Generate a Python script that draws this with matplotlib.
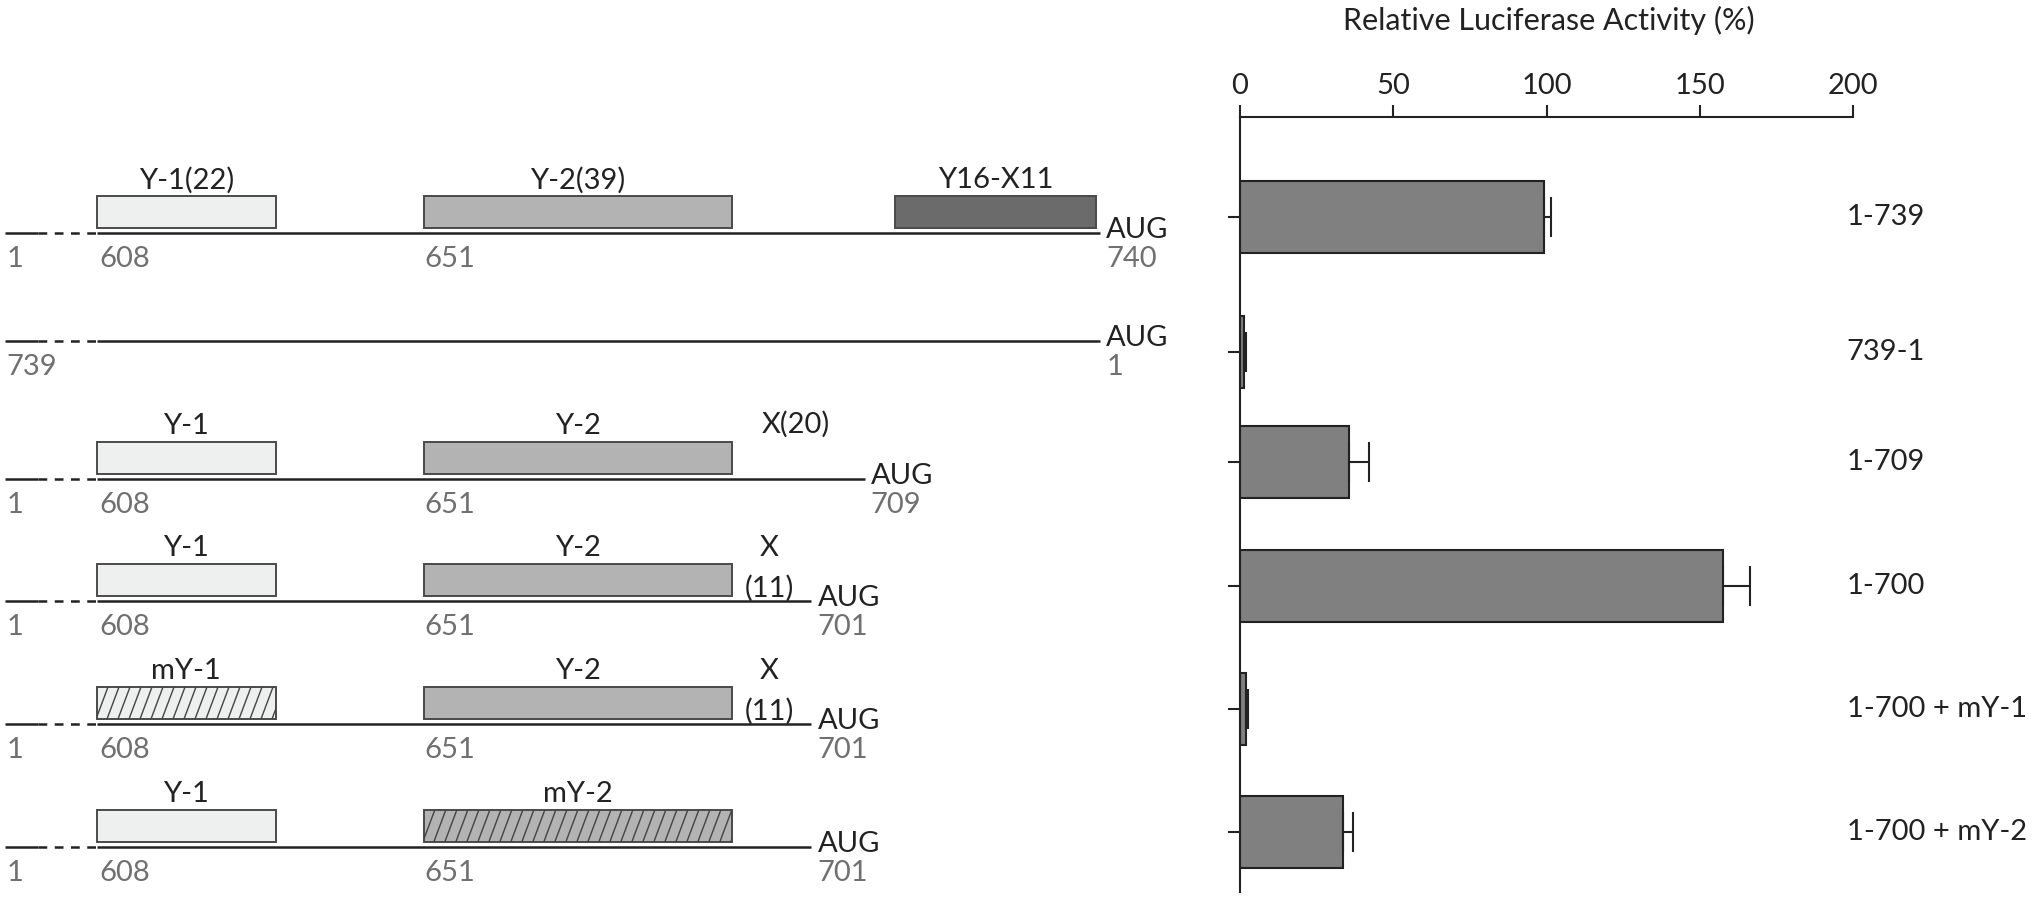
import numpy as np
import matplotlib
matplotlib.use("Agg")
import matplotlib.pyplot as plt
from matplotlib.patches import Rectangle

plt.rcParams['font.family'] = ['Lato', 'DejaVu Sans']

# bar chart data
constructs = ["1-739", "739-1", "1-709", "1-700", "1-700 + mY-1", "1-700 + mY-2"]
activity = [99.2, 1.2, 35.6, 157.6, 2.0, 33.7]
activity_err = [2.3, 0.6, 6.5, 8.7, 0.6, 3.1]
activity_ticks = [0, 50, 100, 150, 200]

# construct diagram data (nucleotide positions)
start_labels = ["1", "739", "1", "1", "1", "1"]
end_labels = ["740", "1", "709", "701", "701", "701"]
line_end = [740, 740, 709, 702, 702, 702]
y1_labels = ["Y-1(22)", None, "Y-1", "Y-1", "mY-1", "Y-1"]
y2_labels = ["Y-2(39)", None, "Y-2", "Y-2", "Y-2", "mY-2"]
y1_mutant = [False, False, False, False, True, False]
y2_mutant = [False, False, False, False, False, True]
x_labels = [None, None, "X(20)", "X\n(11)", "X\n(11)", None]
x_spans = [None, None, (691, 709), (691, 702), (691, 702), None]
y1_span = (608, 631.5)
y2_span = (651, 691.5)
y16x11_span = (713, 739.5)

# layout (figure pixels from top)
bar_y = [217, 352, 462, 586, 709, 832]
line_y = [233, 341, 479, 601, 724, 847]

W, H = 2032, 898
PX_PER_NT = 7.6
BREAK_START = 608 - 92.5 / PX_PER_NT
BREAK_SOLID = 608 - 59 / PX_PER_NT

ink = '#222222'
grey_txt = '#707070'
fs = 21

fig = plt.figure(figsize=(W / 100, H / 100), dpi=100)

# ---- left: constructs ----
ax_l = fig.add_axes([0, 0, 1240 / W, 1])
ax_l.set_xlim(608 - 97 / PX_PER_NT, 608 + (1240 - 97) / PX_PER_NT)
ax_l.set_ylim(H, 0)
ax_l.axis('off')


def draw_box(x0, x1, y, fill, label=None, hatched=False):
    top = y - 37
    rect = Rectangle((x0, top), x1 - x0, 32, facecolor=fill, edgecolor='#4a4a4a', linewidth=1.4, zorder=3)
    ax_l.add_patch(rect)
    if hatched:
        step = 11 / PX_PER_NT
        shift = 12 / PX_PER_NT
        for xs in np.arange(x0 - shift, x1 + step, step):
            ln, = ax_l.plot([xs, xs + shift], [top + 32, top], color='#444444', linewidth=1.0, zorder=4)
            ln.set_clip_path(rect)
    if label:
        ax_l.text((x0 + x1) / 2, y - 53, label, ha='center', va='center', fontsize=fs, color=ink)


for i in range(len(constructs)):
    y = line_y[i]
    ax_l.plot([BREAK_START, BREAK_SOLID], [y, y], color=ink, linewidth=1.8, solid_capstyle='butt')
    ax_l.plot([BREAK_SOLID, 608], [y, y], color=ink, linewidth=1.8, dashes=(3.5, 3), dash_capstyle='butt')
    ax_l.plot([608, line_end[i]], [y, y], color=ink, linewidth=1.8, solid_capstyle='butt')

    ax_l.text(BREAK_START + 0.3, y + 26, start_labels[i], ha='left', va='center', fontsize=fs, color=grey_txt)
    ax_l.text(line_end[i] + 0.8, y - 3, "AUG", ha='left', va='center', fontsize=fs, color=ink)
    ax_l.text(line_end[i] + 0.8, y + 26, end_labels[i], ha='left', va='center', fontsize=fs, color=grey_txt)

    if y1_labels[i] is None:
        continue
    ax_l.text(y1_span[0] + 0.3, y + 26, "608", ha='left', va='center', fontsize=fs, color=grey_txt)
    ax_l.text(y2_span[0] + 0.1, y + 26, "651", ha='left', va='center', fontsize=fs, color=grey_txt)
    draw_box(*y1_span, y, '#eeefef', y1_labels[i], y1_mutant[i])
    draw_box(*y2_span, y, '#b3b3b3', y2_labels[i], y2_mutant[i])
    if i == 0:
        draw_box(*y16x11_span, y, '#6b6b6b', "Y16-X11")
    if x_labels[i]:
        xc = sum(x_spans[i]) / 2
        if "\n" in x_labels[i]:
            top_txt, bot_txt = x_labels[i].split("\n")
            ax_l.text(xc, y - 53, top_txt, ha='center', va='center', fontsize=fs, color=ink)
            ax_l.text(xc, y - 13, bot_txt, ha='center', va='center', fontsize=fs, color=ink)
        else:
            ax_l.text(xc, y - 55, x_labels[i], ha='center', va='center', fontsize=fs, color=ink)

# ---- right: luciferase activity ----
ax_r = fig.add_axes([1240 / W, (H - 892) / H, 613 / W, (892 - 117) / H])
ax_r.set_xlim(0, 200)
ax_r.set_ylim(892, 117)
ax_r.barh(bar_y, activity, height=72, color='#808080', edgecolor=ink, linewidth=1.5, zorder=2)
ax_r.errorbar(activity, bar_y, xerr=[np.zeros(len(activity)), activity_err], fmt='none',
              ecolor=ink, elinewidth=1.5, capsize=14.7, capthick=1.5, zorder=3)

for s in ['right', 'bottom']:
    ax_r.spines[s].set_visible(False)
for s in ['top', 'left']:
    ax_r.spines[s].set_linewidth(1.5)
    ax_r.spines[s].set_color(ink)

ax_r.xaxis.tick_top()
ax_r.set_xticks(activity_ticks)
ax_r.tick_params(axis='x', direction='out', length=9, width=1.5, color=ink, labelsize=fs, pad=4, labelcolor=ink)
ax_r.set_yticks(bar_y)
ax_r.set_yticklabels([])
ax_r.tick_params(axis='y', direction='out', length=9, width=1.5, color=ink)

for i, name in enumerate(constructs):
    ax_r.text(198, bar_y[i], name, ha='left', va='center', fontsize=fs, color=ink, clip_on=False)

fig.text(1549 / W, 1 - 20 / H, "Relative Luciferase Activity (%)", ha='center', va='center', fontsize=22, color=ink)

fig.savefig("out.png", dpi=100)
